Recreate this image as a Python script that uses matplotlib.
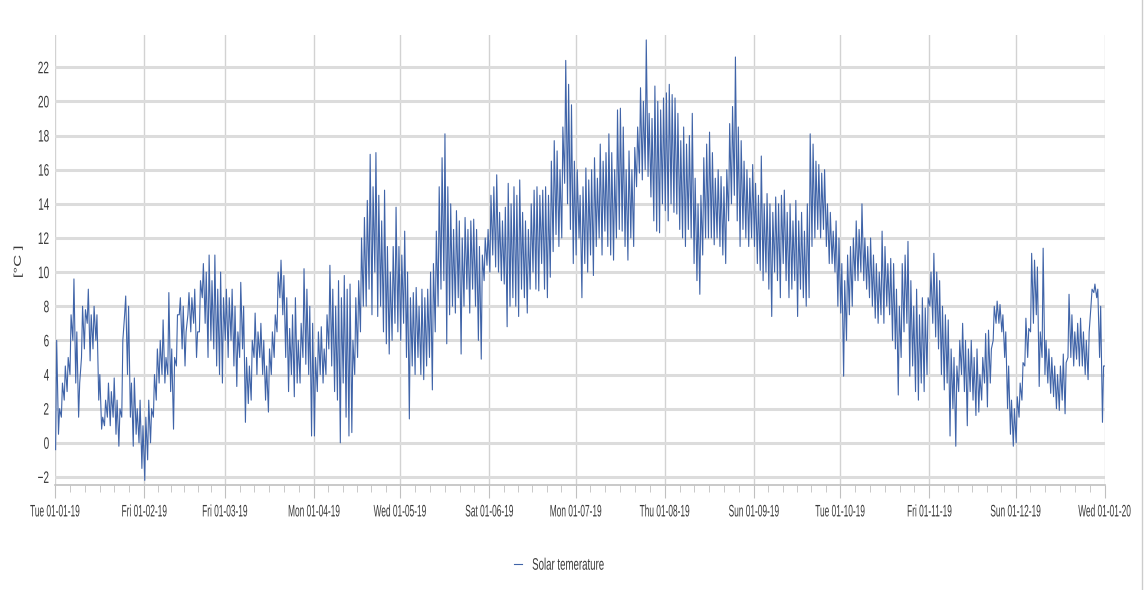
import matplotlib
matplotlib.use("Agg")
import matplotlib.pyplot as plt
import matplotlib.dates as mdates
from matplotlib.lines import Line2D
from matplotlib.patheffects import AbstractPathEffect
from matplotlib.transforms import Affine2D
import pandas as pd

plt.rcParams['font.family'] = ['Liberation Sans', 'DejaVu Sans']

# daily max / min temperatures, one pair per day
hi_jan = [6.0, 2.0, 3.5, 4.5, 5.0, 7.5, 9.6, 6.5, 3.5, 8.0, 7.8, 9.0, 7.5, 8.0, 7.5, 4.0,
          1.5, 2.5, 3.5, 3.0, 3.8, 2.5, 2.0, 6.0, 8.6, 8.0, 3.5, 3.8, 2.0, 2.5, 1.0]
lo_jan = [-0.4, 0.5, 1.5, 2.5, 3.0, 4.0, 6.0, 3.5, 1.5, 5.0, 5.5, 7.0, 4.8, 5.5, 6.0, 2.5,
          0.8, 1.0, 1.5, 1.0, 1.5, 0.5, -0.2, 1.5, 7.5, 4.0, 1.5, -0.2, 0.5, 0.0, -1.5]
hi_feb = [1.5, 2.5, 2.0, 4.0, 5.5, 6.0, 7.2, 5.0, 8.8, 5.5, 5.0, 7.5, 8.5, 8.0, 6.5, 8.8,
          8.5, 9.0, 6.5, 9.5, 10.5, 10.0, 11.0, 9.5, 11.0, 9.0, 10.0, 8.5]
lo_feb = [-2.2, -1.0, 0.0, 1.5, 2.5, 3.5, 4.0, 3.5, 4.0, 3.0, 0.8, 4.5, 7.5, 5.5, 4.5, 7.5,
          6.5, 7.0, 5.0, 6.5, 8.5, 7.0, 5.0, 6.0, 5.5, 4.5, 4.0, 3.5]
hi_mar = [9.0, 8.5, 9.0, 8.0, 6.5, 9.4, 8.0, 5.0, 4.5, 6.0, 7.6, 6.5, 7.0, 6.0, 4.5, 5.5,
          6.5, 7.5, 10.0, 10.7, 9.8, 8.5, 6.7, 7.5, 8.5, 6.0, 7.0, 10.2, 9.0, 8.0, 7.0]
lo_mar = [6.0, 5.0, 6.0, 4.5, 3.3, 5.0, 5.5, 1.2, 2.3, 2.5, 5.0, 4.0, 5.0, 4.0, 2.5, 1.8,
          4.0, 5.0, 6.5, 8.5, 7.5, 5.0, 3.0, 4.0, 2.7, 3.5, 3.5, 5.0, 4.6, 4.0, 0.4]
hi_apr = [5.0, 6.5, 6.8, 5.5, 7.5, 10.4, 9.0, 8.0, 9.5, 8.5, 9.8, 9.0, 9.3, 6.0, 8.5,
          9.5, 12.0, 13.2, 14.2, 16.9, 15.0, 17.0, 14.5, 13.0, 14.8, 11.5, 10.0, 11.5, 13.8, 11.5]
lo_apr = [0.4, 3.0, 4.0, 3.5, 4.0, 5.5, 4.5, 3.0, 2.5, 0.0, 3.5, 1.5, 0.4, 0.6, 4.0,
          5.0, 6.5, 8.0, 8.0, 9.0, 7.5, 10.0, 7.4, 8.0, 6.5, 5.8, 5.2, 6.0, 7.0, 6.5]
hi_may = [11.0, 12.4, 10.0, 8.5, 8.8, 9.1, 8.0, 9.0, 8.5, 9.0, 10.0, 10.5, 12.4, 15.0, 16.7, 18.1,
          15.0, 14.0, 12.5, 13.6, 13.0, 12.0, 13.2, 12.5, 13.0, 13.1, 12.5, 11.5, 11.0, 12.0, 12.5]
lo_may = [6.0, 7.0, 5.0, 1.4, 4.5, 4.0, 5.0, 4.0, 3.7, 4.5, 5.0, 3.1, 6.5, 8.0, 9.0, 9.5,
          5.8, 7.5, 8.0, 7.6, 8.5, 5.2, 8.0, 9.0, 7.6, 9.0, 8.0, 6.0, 4.9, 9.5, 10.4]
hi_jun = [14.5, 15.0, 15.7, 13.5, 13.0, 13.8, 15.2, 14.0, 15.0, 14.5, 15.4, 13.5, 13.0, 12.5, 14.0,
          14.8, 15.0, 14.5, 14.8, 15.0, 14.5, 16.5, 17.7, 17.1, 16.0, 18.5, 22.4, 21.0, 19.8, 16.5]
lo_jun = [10.0, 11.0, 10.3, 10.0, 9.5, 9.3, 6.8, 8.0, 8.5, 8.0, 7.4, 9.0, 8.5, 7.6, 9.0,
          10.0, 9.0, 8.9, 10.5, 9.0, 8.5, 9.7, 11.2, 12.2, 11.5, 12.0, 15.2, 14.0, 12.5, 10.5]
hi_jul = [16.0, 14.5, 15.0, 16.1, 15.4, 16.0, 16.7, 15.5, 17.5, 16.5, 17.0, 18.1, 17.0, 16.0, 19.5, 19.6,
          18.5, 16.0, 17.1, 16.0, 17.3, 18.5, 20.8, 20.0, 23.6, 19.3, 19.0, 20.9, 20.0, 19.5, 20.2]
lo_jul = [11.0, 12.0, 8.5, 10.5, 10.0, 11.0, 9.8, 11.5, 12.0, 11.0, 12.4, 11.5, 11.0, 10.7, 12.0, 12.5,
          12.4, 11.5, 10.7, 12.0, 11.5, 15.0, 15.8, 15.4, 16.0, 15.6, 14.4, 13.0, 12.4, 12.3, 14.0]
hi_aug = [20.5, 21.0, 20.4, 20.2, 19.3, 17.7, 18.5, 17.5, 18.0, 19.3, 15.5, 14.0, 14.5, 16.7, 17.5, 18.2,
          17.0, 15.5, 16.0, 15.6, 15.0, 16.0, 18.7, 19.7, 22.6, 18.5, 17.7, 16.5, 16.0, 15.5, 16.3]
lo_aug = [13.6, 13.0, 14.0, 13.5, 13.4, 12.5, 12.0, 11.5, 12.5, 12.0, 10.5, 9.5, 8.7, 11.0, 12.0, 12.0,
          12.0, 11.6, 12.0, 11.5, 11.0, 10.5, 13.0, 14.0, 14.5, 13.0, 11.5, 12.5, 12.0, 11.5, 12.0]
hi_sep = [15.2, 14.5, 16.8, 14.0, 14.6, 14.0, 13.5, 14.4, 14.0, 14.5, 14.8, 13.5, 14.0, 13.0, 14.2,
          13.0, 13.5, 12.4, 14.0, 18.1, 17.5, 16.5, 16.3, 15.8, 16.0, 14.0, 13.5, 12.4, 13.0, 12.0]
lo_sep = [11.5, 10.5, 10.1, 9.5, 10.0, 9.0, 7.4, 10.0, 9.5, 8.5, 10.5, 9.5, 8.5, 9.0, 9.5,
          7.4, 9.0, 8.5, 8.0, 8.5, 11.5, 12.0, 12.5, 12.0, 12.5, 11.5, 10.5, 10.5, 10.0, 8.0]
hi_oct = [10.5, 9.5, 11.0, 11.5, 12.0, 13.0, 12.5, 14.0, 12.0, 11.5, 12.0, 11.0, 10.5, 10.0, 12.4, 11.5,
          10.5, 10.8, 10.5, 9.0, 8.0, 10.5, 11.0, 11.8, 9.5, 8.0, 9.0, 7.5, 8.5, 7.9, 8.5]
lo_oct = [7.6, 3.9, 6.0, 7.5, 8.0, 9.5, 9.5, 10.0, 9.5, 9.0, 8.5, 8.0, 7.3, 7.0, 7.5, 7.0,
          8.0, 7.5, 6.0, 5.5, 2.8, 5.0, 6.5, 7.0, 3.9, 4.5, 3.0, 2.5, 3.5, 3.0, 4.0]
hi_nov = [10.0, 11.1, 10.0, 9.5, 8.0, 7.5, 7.2, 5.5, 5.0, 4.5, 6.0, 7.0, 6.0, 5.5, 6.0,
          5.0, 5.5, 4.0, 5.0, 6.4, 6.6, 5.5, 8.0, 8.3, 8.1, 7.5, 6.5, 4.5, 2.5, 2.0]
lo_nov = [8.0, 7.0, 6.2, 5.5, 4.0, 3.1, 3.5, 0.4, 2.0, -0.2, 3.0, 4.0, 3.0, 1.0, 3.0,
          2.5, 1.6, 1.8, 2.5, 3.5, 2.1, 3.5, 6.0, 7.0, 7.0, 6.5, 5.0, 2.0, 0.5, -0.2]
hi_dec = [2.7, 3.5, 4.7, 7.3, 6.7, 11.1, 10.7, 10.3, 6.5, 11.4, 6.0, 5.5, 5.0, 4.5, 4.0, 4.5,
          5.2, 4.7, 8.7, 7.5, 6.5, 7.0, 7.3, 6.5, 6.0, 6.5, 9.0, 9.3, 9.0, 8.0, 4.5]
lo_dec = [0.0, 1.5, 2.5, 4.5, 5.0, 6.5, 7.0, 7.5, 3.3, 5.0, 4.0, 3.5, 2.9, 2.7, 2.0, 1.9,
          2.5, 1.7, 5.0, 5.0, 4.5, 4.9, 4.5, 4.5, 4.0, 3.7, 8.0, 8.8, 8.5, 5.0, 1.2]
last_value = 4.5  # 01-01-20 00:00

months = [(hi_jan, lo_jan), (hi_feb, lo_feb), (hi_mar, lo_mar), (hi_apr, lo_apr),
          (hi_may, lo_may), (hi_jun, lo_jun), (hi_jul, lo_jul), (hi_aug, lo_aug),
          (hi_sep, lo_sep), (hi_oct, lo_oct), (hi_nov, lo_nov), (hi_dec, lo_dec)]


class Squeeze(AbstractPathEffect):
    """narrow the text horizontally (the original screenshot is squashed)"""
    def __init__(self, sx=0.55, anchor='center'):
        super().__init__()
        self.sx = sx
        self.anchor = anchor

    def draw_path(self, renderer, gc, tpath, affine, rgbFace=None):
        ext = tpath.transformed(affine).get_extents()
        x0 = {'center': (ext.x0 + ext.x1) / 2, 'left': ext.x0, 'right': ext.x1}[self.anchor]
        sq = Affine2D().translate(-x0, 0).scale(self.sx, 1).translate(x0, 0)
        renderer.draw_path(gc, tpath, affine + sq, rgbFace)


# min in the early morning, max in the afternoon
times, temps = [], []
for m, (hi, lo) in enumerate(months):
    days = pd.date_range(pd.Timestamp(2019, m + 1, 1), periods=len(hi), freq='D')
    for d, h, l in zip(days, hi, lo):
        times += [d + pd.Timedelta(hours=5), d + pd.Timedelta(hours=14)]
        temps += [l, h]
times.append(pd.Timestamp('2020-01-01'))
temps.append(last_value)

txt_color = '#3a3a3a'

fig = plt.figure(figsize=(11.46, 5.9), dpi=100)
ax = fig.add_axes([0.048, 0.178, 0.916, 0.763])

line, = ax.plot(times, temps, color='#4064a8', lw=0.8)

t0, t1 = pd.Timestamp('2019-01-01'), pd.Timestamp('2020-01-01')
ax.set_xlim(t0, t1)
ax.set_ylim(-2.47, 23.9)
ax.set_yticks(range(-2, 23, 2))

# month ticks + 6 minor subdivisions per month
month_starts = pd.date_range(t0, t1, freq='MS')
ax.set_xticks(month_starts)
ax.xaxis.set_major_formatter(mdates.DateFormatter('%a %d-%m-%y'))
minor = []
for a, b in zip(month_starts[:-1], month_starts[1:]):
    step = (b - a) / 6
    minor += [a + step * k for k in range(1, 6)]
ax.set_xticks(minor, minor=True)

ax.grid(axis='y', color='#dcdcdc', lw=2.2)
ax.grid(axis='x', which='major', color='#d2d2d2', lw=1)
ax.set_axisbelow(True)

for s in ['top', 'right', 'left']:
    ax.spines[s].set_visible(False)
ax.spines['bottom'].set_color('#c0c0c0')
ax.spines['bottom'].set_linewidth(1.2)

ax.tick_params(axis='y', length=0, pad=4, labelsize=12, labelcolor=txt_color)
ax.tick_params(axis='x', which='major', length=9, color='#c0c0c0', pad=5,
               labelsize=12, labelcolor=txt_color)
ax.tick_params(axis='x', which='minor', length=5, color='#c0c0c0')

for lbl in ax.get_xticklabels():
    lbl.set_path_effects([Squeeze(0.5, 'center')])
for lbl in ax.get_yticklabels():
    lbl.set_path_effects([Squeeze(0.6, 'right')])

fig.text(18 / 1146, 1 - 262 / 590, '[°C ]', rotation=90, ha='center', va='center',
         fontsize=12, color=txt_color, path_effects=[Squeeze(0.6, 'center')])

leg = fig.legend([line], ['Solar temerature'], loc='center left',
                 bbox_to_anchor=(0.435, 0.042), frameon=False, handlelength=0.5,
                 handletextpad=0.6, fontsize=12, labelcolor=txt_color)
for t in leg.get_texts():
    t.set_path_effects([Squeeze(0.58, 'left')])

fig.add_artist(Line2D([0.9965, 0.9965], [0, 1], transform=fig.transFigure,
                      color='#cccccc', lw=1))

fig.savefig('out.png', dpi=100)
